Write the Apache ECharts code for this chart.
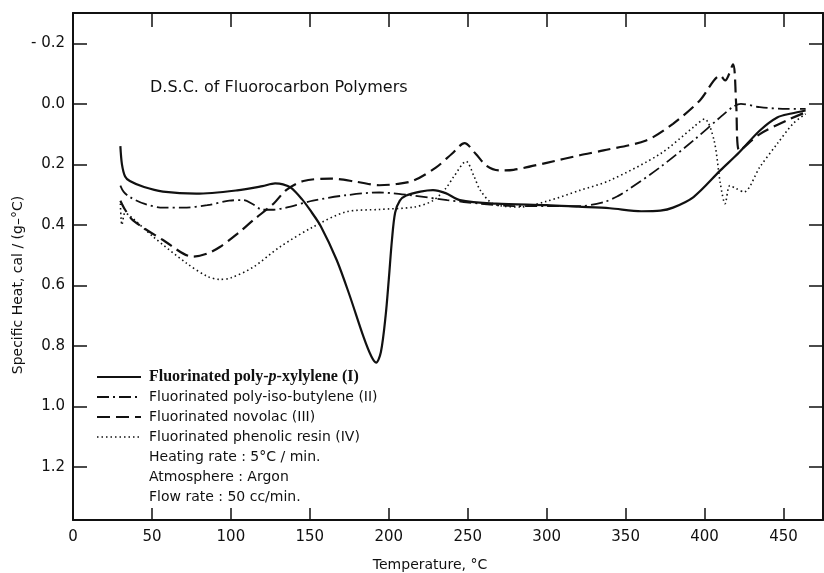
<!DOCTYPE html>
<html>
<head>
<meta charset="utf-8">
<script src="https://cdn.jsdelivr.net/npm/echarts@6/dist/echarts.min.js"></script>
<style>
html,body{margin:0;padding:0;background:#fff;}
#chart{width:824px;height:573px;}
</style>
</head>
<body>
<div id="chart"></div>
<script>
// [temperature degC, specific heat cal/(g-degC)]
var polyXylylene=[[30,0.14],[31,0.2],[33,0.24],[36,0.255],[45,0.275],[57,0.29],[78,0.297],[104,0.286],[120,0.272],[128,0.263],[133,0.266],[138,0.277],[145,0.315],[150,0.35],[157,0.405],[167,0.516],[175,0.63],[184,0.77],[189,0.835],[192,0.855],[195,0.82],[198,0.7],[200,0.58],[202,0.45],[204,0.36],[207,0.32],[211,0.303],[220,0.29],[228,0.285],[236,0.295],[245,0.318],[268,0.33],[300,0.335],[320,0.34],[340,0.345],[360,0.355],[372,0.353],[380,0.343],[393,0.308],[410,0.22],[422,0.16],[435,0.088],[446,0.045],[455,0.032],[464,0.022]];
var polyIsoButylene=[[30,0.27],[32,0.29],[36,0.308],[45,0.33],[57,0.343],[70,0.343],[85,0.335],[99,0.32],[108,0.318],[114,0.332],[120,0.35],[126,0.35],[135,0.343],[152,0.32],[173,0.302],[194,0.293],[215,0.303],[237,0.318],[258,0.33],[279,0.338],[300,0.338],[321,0.338],[336,0.325],[345,0.305],[351,0.286],[372,0.209],[393,0.121],[410,0.044],[418,0.01],[423,0.0],[435,0.011],[452,0.017],[464,0.017]];
var novolac=[[30,0.32],[33,0.35],[38,0.385],[57,0.45],[76,0.505],[85,0.495],[93,0.473],[104,0.43],[114,0.385],[127,0.33],[135,0.285],[146,0.255],[163,0.247],[180,0.258],[194,0.269],[205,0.265],[216,0.253],[230,0.21],[240,0.165],[248,0.13],[255,0.165],[262,0.205],[270,0.22],[279,0.218],[300,0.195],[321,0.17],[336,0.154],[363,0.121],[380,0.066],[397,-0.011],[410,-0.093],[413,-0.077],[418,-0.13],[420,0.0],[422,0.155],[435,0.1],[452,0.055],[464,0.028]];
var phenolicResin=[[30,0.33],[31,0.4],[33,0.36],[36,0.37],[51,0.44],[72,0.527],[85,0.57],[93,0.58],[100,0.575],[114,0.54],[131,0.473],[152,0.407],[173,0.357],[194,0.349],[216,0.341],[228,0.32],[236,0.28],[241,0.242],[249,0.19],[254,0.24],[258,0.286],[266,0.33],[283,0.341],[300,0.322],[321,0.286],[340,0.253],[372,0.165],[393,0.077],[400,0.05],[406,0.121],[410,0.264],[413,0.33],[416,0.27],[420,0.28],[425,0.291],[435,0.209],[446,0.132],[456,0.066],[464,0.033]];
var xTicks=[0,50,100,150,200,250,300,350,400,450];
var yTicks=[-0.2,0,0.2,0.4,0.6,0.8,1.0,1.2];
var notes=['Heating rate : 5°C / min.','Atmosphere : Argon','Flow rate : 50 cc/min.'];

var ink='#111';
var font='DejaVu Sans';
var styleI={color:ink,width:2.2,type:'solid'};
var styleII={color:ink,width:1.8,type:[12,4,2,4]};
var styleIII={color:ink,width:2.2,type:[13,6]};
var styleIV={color:ink,width:1.6,type:[1.5,3]};

var myChart=echarts.init(document.getElementById('chart'),null,{renderer:'canvas'});

function mkSeries(name,data,ls){
    return {
        name:name,
        type:'line',
        data:data,
        showSymbol:false,
        smooth:0.3,
        lineStyle:ls,
        silent:true
    }
}

// legend rows (swatch + text) drawn by hand, like the printed figure
var legendRows=[
    {ls:styleI,y:377,text:'{b|Fluorinated poly-}{bi|p}{b|-xylylene (I)}'},
    {ls:styleII,y:397,text:'Fluorinated poly-iso-butylene (II)'},
    {ls:styleIII,y:417,text:'Fluorinated novolac (III)'},
    {ls:styleIV,y:437,text:'Fluorinated phenolic resin (IV)'}
];
var graphics=[];
legendRows.forEach(function(r){
    graphics.push({
        type:'line',
        shape:{x1:97,y1:r.y,x2:141,y2:r.y},
        style:{stroke:ink,lineWidth:r.ls.width,lineDash:r.ls.type==='solid'?null:r.ls.type}
    });
    graphics.push({
        type:'text',
        x:149,y:r.y,
        style:{
            text:r.text,
            font:'14px '+font,
            fill:ink,
            verticalAlign:'middle',
            rich:{
                b:{fontFamily:'Liberation Serif',fontWeight:'bold',fontSize:16,fill:ink},
                bi:{fontFamily:'Liberation Serif',fontWeight:'bold',fontStyle:'italic',fontSize:16,fill:ink}
            }
        }
    });
});
notes.forEach(function(t,i){
    graphics.push({
        type:'text',
        x:149,y:457+i*20,
        style:{text:t,font:'14px '+font,fill:ink,verticalAlign:'middle'}
    });
});
graphics.push({
    type:'text',x:150,y:88,
    style:{text:'D.S.C. of Fluorocarbon Polymers',font:'16px '+font,fill:ink,verticalAlign:'middle'}
});
graphics.push({
    type:'text',x:430,y:565,
    style:{text:'Temperature, °C',font:'14px '+font,fill:ink,align:'center',verticalAlign:'middle'}
});
graphics.push({
    type:'text',x:18,y:285,rotation:Math.PI/2,
    style:{text:'Specific Heat, cal / (g\u2013°C)',font:'14px '+font,fill:ink,align:'center',verticalAlign:'middle'}
});

var axisLine={show:true,onZero:false,lineStyle:{color:ink,width:2}};
var option={
    backgroundColor:'#fff',
    animation:false,
    grid:{left:73,right:1,top:13,bottom:53},
    xAxis:[
        {
            type:'value',position:'bottom',min:0,max:475,
            axisLine:axisLine,
            axisTick:{show:true,inside:true,length:12,customValues:xTicks,lineStyle:{color:ink,width:1.5}},
            axisLabel:{show:true,customValues:xTicks,fontFamily:font,fontSize:15,color:ink,margin:10},
            splitLine:{show:false}
        },
        {
            type:'value',position:'top',min:0,max:475,
            axisLine:axisLine,
            axisTick:{show:true,inside:true,length:14,customValues:xTicks,lineStyle:{color:ink,width:1.5}},
            axisLabel:{show:false},
            splitLine:{show:false}
        }
    ],
    yAxis:[
        {
            type:'value',position:'left',inverse:true,min:-0.3,max:1.375,
            axisLine:axisLine,
            axisTick:{show:true,inside:true,length:14,customValues:yTicks,lineStyle:{color:ink,width:1.5}},
            axisLabel:{
                show:true,customValues:yTicks,fontFamily:font,fontSize:15,color:ink,margin:8,
                formatter:function(v){
                    var s=Math.abs(v).toFixed(1);
                    return v<0?'- '+s:s;
                }
            },
            splitLine:{show:false}
        },
        {
            type:'value',position:'right',inverse:true,min:-0.3,max:1.375,
            axisLine:axisLine,
            axisTick:{show:true,inside:true,length:14,customValues:yTicks,lineStyle:{color:ink,width:1.5}},
            axisLabel:{show:false},
            splitLine:{show:false}
        }
    ],
    series:[
        mkSeries('Fluorinated poly-p-xylylene (I)',polyXylylene,styleI),
        mkSeries('Fluorinated poly-iso-butylene (II)',polyIsoButylene,styleII),
        mkSeries('Fluorinated novolac (III)',novolac,styleIII),
        mkSeries('Fluorinated phenolic resin (IV)',phenolicResin,styleIV)
    ],
    graphic:graphics
};
myChart.setOption(option);
</script>
</body>
</html>
